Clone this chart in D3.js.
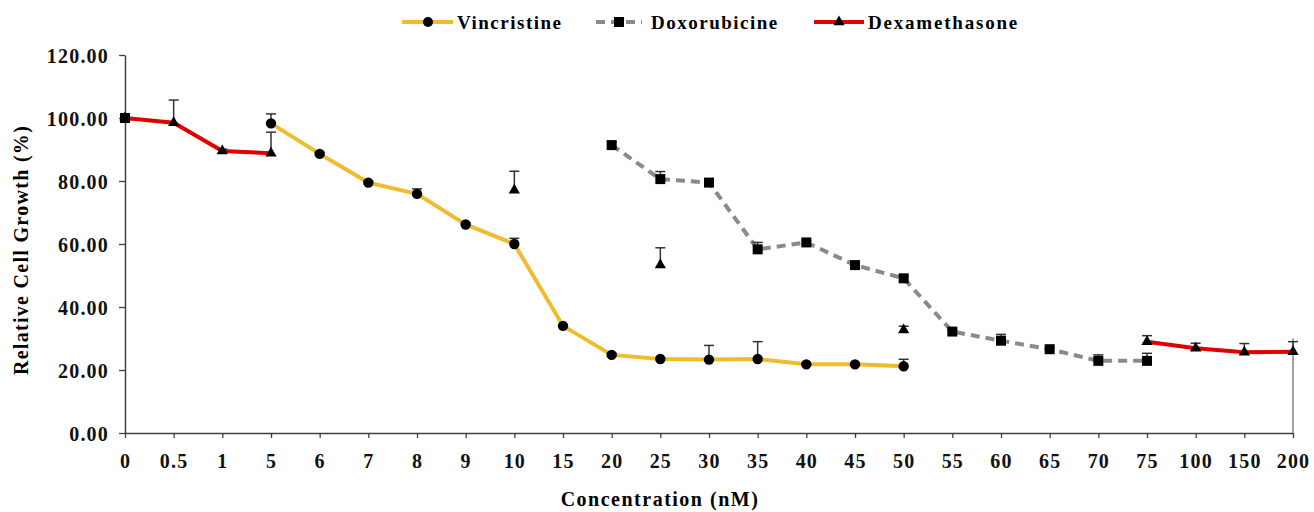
<!DOCTYPE html>
<html>
<head>
<meta charset="utf-8">
<script src="https://cdn.jsdelivr.net/npm/d3@7"></script>
<style>
  body { margin: 0; background: #fff; }
  text { font-family: "Liberation Serif", "Times New Roman", serif; font-weight: bold; }
</style>
</head>
<body>
<script>
// Relative cell growth vs concentration, three drugs

const w = 1314;
const h = 512;

const categories = ["0", "0.5", "1", "5", "6", "7", "8", "9", "10", "15", "20", "25", "30",
  "35", "40", "45", "50", "55", "60", "65", "70", "75", "100", "150", "200"];
const yTicks = [0, 20, 40, 60, 80, 100, 120];

const vincCats = ["5", "6", "7", "8", "9", "10", "15", "20", "25", "30", "35", "40", "45", "50"];
const vincValues = [98.3, 88.6, 79.5, 75.9, 66.2, 60.0, 34.0, 24.8, 23.5, 23.3, 23.5, 21.8, 21.8, 21.2];
const vincErrors = [3.0, 0.5, 0.5, 1.6, 0.5, 1.8, 0.3, 0.5, 0.3, 4.5, 5.5, 0.4, 0.4, 2.2];

const doxCats = ["0", "20", "25", "30", "35", "40", "45", "50", "55", "60", "65", "70", "75"];
const doxValues = [100, 91.4, 80.6, 79.5, 58.3, 60.5, 53.3, 49.1, 32.2, 29.3, 26.6, 22.9, 22.9];
const doxErrors = [0.5, 1.0, 2.4, 0.5, 2.2, 0.6, 0.5, 0.7, 0.5, 2.0, 0.5, 1.9, 2.4];
const doxLinked = [0, 1, 1, 1, 1, 1, 1, 1, 1, 1, 1, 1, 1];

const dexCats = ["0", "0.5", "1", "5", "10", "25", "50", "75", "100", "150", "200"];
const dexValues = [100, 98.5, 89.5, 88.8, 77.1, 53.3, 32.7, 29.0, 26.9, 25.6, 25.8];
const dexErrors = [0.5, 7.2, 0.6, 6.7, 6.0, 5.5, 1.2, 1.9, 1.6, 2.8, 3.2];
const dexLinked = [1, 1, 1, 1, 0, 0, 0, 1, 1, 1, 1];

const plotLeft = 125, plotRight = 1293, plotTop = 55, plotBottom = 433;

const svg = d3.select("body")
  .append("svg")
  .attr("width", w)
  .attr("height", h);

const x = d3.scalePoint().domain(categories).range([plotLeft, plotRight]);
const y = d3.scaleLinear().domain([0, 120]).range([plotBottom, plotTop]);

const toRows = (cats, vals, errs, linked) =>
  cats.map((c, i) => ({ cat: c, v: vals[i], e: errs[i], linked: linked ? !!linked[i] : true }));

const vinc = toRows(vincCats, vincValues, vincErrors);
const dox = toRows(doxCats, doxValues, doxErrors, doxLinked);
const dex = toRows(dexCats, dexValues, dexErrors, dexLinked);

// axes
const xAxis = svg.append("g")
  .attr("transform", `translate(0,${plotBottom})`)
  .call(d3.axisBottom(x).tickSize(5).tickSizeOuter(0));
const yAxis = svg.append("g")
  .attr("transform", `translate(${plotLeft},0)`)
  .call(d3.axisLeft(y).tickValues(yTicks).tickFormat(d3.format(".2f")).tickSize(6).tickSizeOuter(0));

[xAxis, yAxis].forEach(g => {
  g.select(".domain").attr("stroke", "#404040").attr("stroke-width", 1.5);
  g.selectAll(".tick line").attr("stroke", "#404040").attr("stroke-width", 1.3);
  g.selectAll(".tick text")
    .attr("fill", "#111")
    .style("font-size", "20px")
    .style("letter-spacing", "1.2px")
    .style("font-family", "'Liberation Serif', serif")
    .style("font-weight", "bold");
});
xAxis.selectAll(".tick text").attr("dy", "1.35em");
yAxis.selectAll(".tick text").attr("x", -16).attr("dy", "0.35em");

// right border stub
svg.append("line")
  .attr("x1", plotRight).attr("x2", plotRight)
  .attr("y1", y(30)).attr("y2", plotBottom)
  .attr("stroke", "#808080").attr("stroke-width", 1.5);

// axis titles
svg.append("text")
  .attr("x", 660).attr("y", 506)
  .attr("text-anchor", "middle")
  .style("font-size", "20px").style("letter-spacing", "1.5px")
  .text("Concentration (nM)");

svg.append("text")
  .attr("transform", "translate(28,250) rotate(-90)")
  .attr("text-anchor", "middle")
  .style("font-size", "20px").style("letter-spacing", "1.3px")
  .text("Relative Cell Growth (%)");

const line = d3.line()
  .defined(d => d.linked)
  .x(d => x(d.cat))
  .y(d => y(d.v));

const drawErrors = rows => {
  const g = svg.append("g").attr("stroke", "#333").attr("stroke-width", 1.5);
  rows.forEach(d => {
    const cx = x(d.cat), y0 = y(d.v), y1 = y(d.v + d.e);
    g.append("line").attr("x1", cx).attr("x2", cx).attr("y1", y0).attr("y2", y1);
    g.append("line").attr("x1", cx - 5).attr("x2", cx + 5).attr("y1", y1).attr("y2", y1);
  });
};

// Vincristine
svg.append("path").datum(vinc)
  .attr("d", line).attr("fill", "none")
  .attr("stroke", "#F0BC2E").attr("stroke-width", 4);
drawErrors(vinc);
svg.selectAll(".vinc").data(vinc).enter()
  .append("circle")
  .attr("cx", d => x(d.cat)).attr("cy", d => y(d.v))
  .attr("r", 5.2).attr("fill", "#000");

// Dexamethasone
svg.append("path").datum(dex)
  .attr("d", line).attr("fill", "none")
  .attr("stroke", "#E00000").attr("stroke-width", 4);
drawErrors(dex);
const tri = d3.symbol().type(d3.symbolTriangle).size(55);
svg.selectAll(".dex").data(dex).enter()
  .append("path")
  .attr("d", tri)
  .attr("transform", d => `translate(${x(d.cat)},${y(d.v)})`)
  .attr("fill", "#000");

// Doxorubicine
svg.append("path").datum(dox)
  .attr("d", line).attr("fill", "none")
  .attr("stroke", "#8a8a8a").attr("stroke-width", 4)
  .attr("stroke-dasharray", "9,6");
drawErrors(dox);
svg.selectAll(".dox").data(dox).enter()
  .append("rect")
  .attr("x", d => x(d.cat) - 5).attr("y", d => y(d.v) - 5)
  .attr("width", 10).attr("height", 10)
  .attr("fill", "#000");

// legend
const legend = svg.append("g");
const legY = 22;

legend.append("line").attr("x1", 402).attr("x2", 453).attr("y1", legY).attr("y2", legY)
  .attr("stroke", "#F0BC2E").attr("stroke-width", 4);
legend.append("circle").attr("cx", 428).attr("cy", legY).attr("r", 5).attr("fill", "#000");
legend.append("text").attr("x", 457).attr("y", legY + 7)
  .style("font-size", "19px").style("letter-spacing", "1.5px").text("Vincristine");

legend.append("line").attr("x1", 596).attr("x2", 642).attr("y1", legY).attr("y2", legY)
  .attr("stroke", "#8a8a8a").attr("stroke-width", 4).attr("stroke-dasharray", "9,6");
legend.append("rect").attr("x", 614).attr("y", legY - 5).attr("width", 10).attr("height", 10).attr("fill", "#000");
legend.append("text").attr("x", 651).attr("y", legY + 7)
  .style("font-size", "19px").style("letter-spacing", "1.5px").text("Doxorubicine");

legend.append("line").attr("x1", 814).attr("x2", 864).attr("y1", legY).attr("y2", legY)
  .attr("stroke", "#E00000").attr("stroke-width", 4);
legend.append("path").attr("d", tri).attr("transform", `translate(839,${legY})`).attr("fill", "#000");
legend.append("text").attr("x", 868).attr("y", legY + 7)
  .style("font-size", "19px").style("letter-spacing", "1.8px").text("Dexamethasone");
</script>
</body>
</html>
